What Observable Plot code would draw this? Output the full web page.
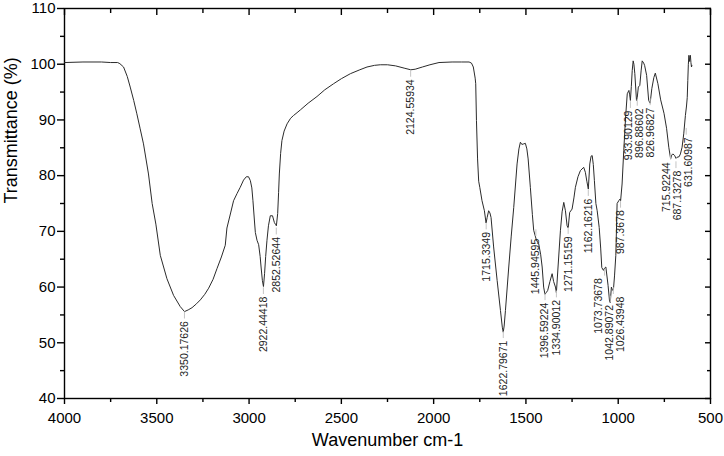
<!DOCTYPE html>
<html><head><meta charset="utf-8">
<script src="https://cdn.jsdelivr.net/npm/d3@7"></script>
<script src="https://cdn.jsdelivr.net/npm/@observablehq/plot@0.6"></script>
<style>body{margin:0;background:#fff} svg{display:block}</style>
</head><body><div id="chart"></div>
<script>
// FTIR spectrum (wavenumber cm-1, transmittance %)
const wavenumbers = [4000,3900,3800,3750,3712,3700,3680,3660,3644,3625,3608,3590,3572,3545,3525,3505,3481,3445,3409,3373,3350,3330,3309,3285,3264,3240,3219,3195,3174,3150,3129,3120,3100,3084,3065,3048,3030,3015,3003,2993,2985,2979,2970,2966,2957,2948,2940,2935,2928,2922,2916,2910,2903,2895,2885,2873,2863,2856,2852,2845,2840,2836,2829,2822,2810,2794,2775,2759,2740,2722,2680,2632,2590,2542,2500,2451,2400,2361,2320,2289,2250,2206,2160,2124,2100,2061,2020,1971,1900,1850,1808,1795,1785,1775,1772,1768,1762,1756,1750,1738,1725,1716,1710,1702,1695,1689,1675,1656,1638,1628,1623,1618,1611,1593,1580,1566,1548,1538,1530,1522,1512,1503,1495,1488,1476,1465,1458,1448,1443,1431,1420,1412,1404,1397,1390,1382,1370,1358,1350,1340,1335,1326,1313,1304,1295,1286,1277,1271,1263,1250,1240,1232,1218,1205,1187,1178,1170,1162,1154,1147,1141,1135,1129,1121,1114,1103,1095,1089,1080,1074,1067,1055,1047,1043,1037,1030,1026,1020,1013,1006,997,990,987,979,970,960,951,942,938,934,929,924,919,915,910,901,897,891,883,876,870,862,857,846,835,827,818,807,799,785,770,752,738,726,716,710,704,694,687,681,670,663,654,645,636,630,626,623,620,617,614,612,609,606,603,601];
const transmittance = [100.3,100.4,100.4,100.3,100.3,100.1,99.5,97.8,95.9,93.5,91.1,88.4,85.7,80.3,75.0,71.3,65.7,61.5,58.5,56.5,55.6,55.9,56.3,57.0,57.7,58.7,59.8,61.4,63.3,65.4,67.5,70.6,73.3,75.5,76.8,77.9,79.2,79.8,79.8,79.1,77.8,75.5,71.5,69.8,68.4,67.6,65.5,63.6,61.2,60.1,62.4,65.5,68.4,71.0,72.8,72.8,71.6,71.2,71.0,73.2,77.0,80.3,84.0,86.3,88.0,89.3,90.3,90.8,91.3,91.8,93.0,94.2,95.4,96.5,97.4,98.3,99.0,99.5,99.8,99.9,99.9,99.7,99.3,99.0,99.1,99.5,99.9,100.3,100.4,100.4,100.4,100.2,99.5,97.5,96.5,89.9,83.0,79.0,77.9,75.5,73.7,71.5,72.5,73.7,73.3,72.5,67.2,61.2,55.8,52.8,51.9,53.0,55.8,63.6,69.0,74.3,82.1,84.8,86.0,85.6,85.7,85.8,84.8,83.0,77.9,73.0,70.2,69.0,68.4,67.8,65.8,63.6,60.0,58.7,59.0,59.4,61.0,62.4,61.0,60.0,59.0,63.6,70.2,73.5,75.2,73.7,71.0,70.6,73.4,74.0,76.0,77.9,79.8,80.9,81.5,80.6,79.0,77.6,82.1,83.5,83.6,82.0,79.1,75.0,73.7,70.7,67.0,63.5,63.0,63.4,63.6,60.3,57.5,57.2,60.0,59.4,59.5,62.0,65.7,75.0,75.5,75.8,75.5,78.5,84.5,90.5,94.7,95.3,94.5,93.5,96.0,98.9,100.6,100.0,98.3,93.5,94.0,95.9,96.2,98.8,100.6,100.2,99.8,98.0,93.5,93.0,95.6,97.6,98.4,96.5,93.6,91.2,88.5,85.1,83.0,83.7,83.9,83.6,83.1,83.3,83.4,83.9,85.1,87.5,90.8,92.5,94.0,97.1,100.0,101.6,100.5,101.2,101.6,100.3,99.5,99.8];

const peakLabels = ["3350.17626","2922.44418","2852.52644","2124.55934","1715.3349","1622.79671","1445.94595","1396.59224","1334.90012","1271.15159","1162.16216","1073.73678","1042.89072","1026.43948","987.3678","933.90129","896.88602","826.96827","715.92244","687.13278","631.60987"];
const peakValues = [55.5,59.9,70.6,98.9,71.5,52.0,70.3,58.8,59.3,70.7,77.5,63.2,58.4,59.9,75.4,93.3,93.7,93.8,84.0,82.5,88.5];

const xTicks = [4000,3500,3000,2500,2000,1500,1000,500];
const xMinorTicks = [3750,3250,2750,2250,1750,1250,750];
const yTicks = [40,50,60,70,80,90,100,110];
const yMinorTicks = [45,55,65,75,85,95,105];
const xTitle = "Wavenumber cm-1";
const yTitle = "Transmittance (%)";

const spectrum = wavenumbers.map((w, i) => ({w, t: transmittance[i]}));
const peaks = peakLabels.map((s, i) => ({w: +s, t: peakValues[i], label: s}));

const font = "'Liberation Sans', Arial, sans-serif";
const blank = () => "";
const dims = {width: 724, height: 456, marginLeft: 64, marginRight: 14, marginTop: 8, marginBottom: 58,
  x: {domain: [4000, 500]}, y: {domain: [40, 110]}};
const labelSize = 10.5, labelGap = 9;

// Dodge overlapping peak labels horizontally (as the source software does)
const probe = Plot.plot({...dims, marks: [Plot.line(spectrum, {x: "w", y: "t"})]});
const sx = probe.scale("x"), sy = probe.scale("y");
const items = peaks.map(p => {
  const top = sy.apply(p.t) + labelGap;
  const len = [...p.label].reduce((s, c) => s + (c === "." ? 0.278 : 0.556), 0) * labelSize;
  return {p, px: sx.apply(p.w), top, bottom: top + len};
});
const minGap = 11;
for (let it = 0; it < 500; ++it) {
  for (let i = 0; i < items.length; ++i) for (let j = i + 1; j < items.length; ++j) {
    const a = items[i], b = items[j];
    if (a.top < b.bottom + 4 && b.top < a.bottom + 4) {
      const d = b.px - a.px, ad = Math.abs(d);
      if (ad < minGap) {
        const s = d >= 0 ? 1 : -1, push = (minGap - ad) / 4;
        a.px -= s * push; b.px += s * push;
      }
    }
  }
}
items.forEach(o => { o.p.lx = sx.invert(o.px); });

const chart = Plot.plot({
  ...dims,
  style: {fontFamily: font, background: "#fff", color: "#000"},
  marks: [
    Plot.frame({stroke: "#000", strokeWidth: 1.4}),
    Plot.axisX({anchor: "bottom", ticks: xTicks, tickSize: 6, tickPadding: 8, fontSize: 15, label: null, strokeWidth: 1.4, tickFormat: d => String(d)}),
    Plot.axisX({anchor: "bottom", ticks: xMinorTicks, tickSize: 4, label: null, strokeWidth: 1.4, tickFormat: blank}),
    Plot.axisX({anchor: "top", ticks: xTicks, tickSize: 6, dy: 6, label: null, strokeWidth: 1.4, tickFormat: blank}),
    Plot.axisX({anchor: "top", ticks: xMinorTicks, tickSize: 4, dy: 4, label: null, strokeWidth: 1.4, tickFormat: blank}),
    Plot.axisY({anchor: "left", ticks: yTicks, tickSize: 7, tickPadding: 2, fontSize: 15, label: null, strokeWidth: 1.4, tickFormat: d => String(d)}),
    Plot.axisY({anchor: "left", ticks: yMinorTicks, tickSize: 4, label: null, strokeWidth: 1.4, tickFormat: blank}),
    Plot.axisY({anchor: "right", ticks: yTicks, tickSize: 6, dx: -6, label: null, strokeWidth: 1.4, tickFormat: blank}),
    Plot.axisY({anchor: "right", ticks: yMinorTicks, tickSize: 4, dx: -4, label: null, strokeWidth: 1.4, tickFormat: blank}),
    Plot.line(spectrum, {x: "w", y: "t", stroke: "#2b2b2b", strokeWidth: 1, curve: "linear"}),
    Plot.vector(peaks, {x: "w", y: "t", length: 6, rotate: 180, anchor: "start", stroke: "#c4c4c4", strokeWidth: 1, shape: {draw(ctx, l) { ctx.moveTo(0, 0); ctx.lineTo(0, -l); }}}),
    Plot.text(peaks, {x: "lx", y: "t", text: "label", rotate: -90, textAnchor: "end", dy: labelGap, fontSize: labelSize, fill: "#222"}),
    Plot.text([xTitle], {frameAnchor: "bottom", dy: 47, fontSize: 18, fill: "#000"}),
    Plot.text([yTitle], {frameAnchor: "left", rotate: -90, dx: -53, fontSize: 18, fill: "#000"})
  ]
});
document.getElementById("chart").appendChild(chart);
</script>
</body></html>
